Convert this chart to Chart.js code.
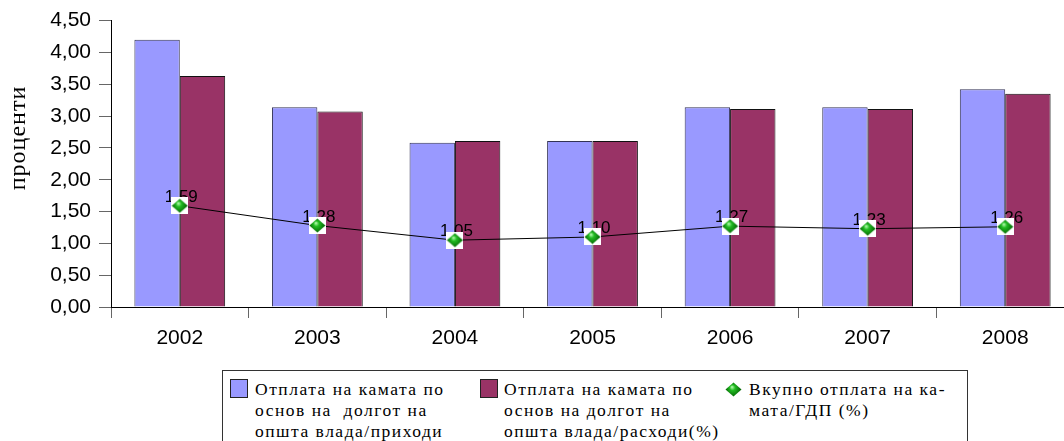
<!DOCTYPE html>
<html>
<head>
<meta charset="utf-8">
<script src="https://cdn.jsdelivr.net/npm/chart.js@4/dist/chart.umd.min.js"></script>
<style>
  html, body { margin: 0; padding: 0; background: #fff; overflow: hidden; }
  #wrap { position: relative; width: 1064px; height: 441px; overflow: hidden; }
  #holder { position: absolute; left: 0; top: 0; width: 1083px; height: 441px; }
  #legend {
    position: absolute; left: 222px; top: 370px; width: 746px; height: 90px;
    border: 1px solid #333; background: #fff; box-sizing: border-box;
    font-family: "Liberation Serif", "Times New Roman", serif; font-size: 17.5px;
    line-height: 21px; color: #000; letter-spacing: 1.5px;
  }
  .item { position: absolute; top: 0; }
  .sw { position: absolute; width: 16px; height: 17px; border: 1px solid #222; }
  .txt { position: absolute; top: 8px; white-space: pre; }
</style>
</head>
<body>
<div id="wrap">
  <div id="holder"><canvas id="c" width="1083" height="441"></canvas></div>
  <div id="legend"></div>
</div>
<script>
// Years on the category axis
const years = ['2002', '2003', '2004', '2005', '2006', '2007', '2008'];
// Interest payments on general government debt, share of revenue (%)
const revenueShare = [4.20, 3.14, 2.58, 2.61, 3.14, 3.14, 3.42];
// Interest payments on general government debt, share of expenditure (%)
const expenditureShare = [3.63, 3.07, 2.61, 2.61, 3.11, 3.11, 3.35];
// Total interest payments as share of GDP (%)
const gdpShare = [1.59, 1.28, 1.05, 1.10, 1.27, 1.23, 1.26];

const revenueLabel = ['Отплата на камата по', 'основ на  долгот на', 'општа влада/приходи'];
const expenditureLabel = ['Отплата на камата по', 'основ на долгот на', 'општа влада/расходи(%)'];
const gdpLabel = ['Вкупно отплата на ка-', 'мата/ГДП (%)'];
const axisTitle = 'проценти';

const fmt = v => v.toFixed(2).replace('.', ',');

// Green diamond marker, optionally on a white square
function diamond(size, withBack) {
  const cv = document.createElement('canvas');
  cv.width = size; cv.height = size;
  const g = cv.getContext('2d');
  if (withBack) { g.fillStyle = '#fff'; g.fillRect(0, 0, size, size); }
  const c = size / 2, r = size / 2 - 0.5;
  const grad = g.createRadialGradient(c - 1.5, c - 2.5, 0.5, c, c, r);
  grad.addColorStop(0, '#a6f5a0');
  grad.addColorStop(0.3, '#22bb22');
  grad.addColorStop(1, '#005c00');
  g.fillStyle = grad;
  g.beginPath();
  g.moveTo(c, c - r + 1); g.lineTo(c + r, c); g.lineTo(c, c + r - 1); g.lineTo(c - r, c);
  g.closePath(); g.fill();
  return cv;
}
const marker = diamond(17, true);

// Value labels above the line markers, drawn just before the line so markers sit on top
const valueLabels = {
  id: 'valueLabels',
  beforeDatasetDraw(chart, args) {
    if (args.index !== 0) return;
    const ctx = chart.ctx;
    ctx.save();
    ctx.font = '17px "Liberation Sans", Arial, sans-serif';
    ctx.fillStyle = '#000';
    ctx.textAlign = 'center';
    ctx.textBaseline = 'alphabetic';
    args.meta.data.forEach((pt, i) => {
      ctx.fillText(fmt(gdpShare[i]), pt.x + 1.5, pt.y - 4);
    });
    ctx.restore();
  }
};

// Rotated y axis caption
const yCaption = {
  id: 'yCaption',
  afterDraw(chart) {
    const ctx = chart.ctx;
    ctx.save();
    ctx.translate(25, 138);
    ctx.rotate(-Math.PI / 2);
    ctx.font = '24px "Liberation Serif", "Times New Roman", serif';
    ctx.letterSpacing = '1px';
    ctx.fillStyle = '#000';
    ctx.textAlign = 'center';
    ctx.textBaseline = 'alphabetic';
    ctx.fillText(axisTitle, 0, 0);
    ctx.restore();
  }
};

new Chart(document.getElementById('c'), {
  data: {
    labels: years,
    datasets: [
      {
        type: 'line', label: gdpLabel.join(' '), data: gdpShare, order: 0,
        borderColor: '#000', borderWidth: 1, tension: 0,
        pointStyle: marker, pointRadius: 8, pointHoverRadius: 8
      },
      {
        type: 'bar', label: revenueLabel.join(' '), data: revenueShare, order: 1,
        backgroundColor: '#9999ff', borderColor: '#333355', borderWidth: 1
      },
      {
        type: 'bar', label: expenditureLabel.join(' '), data: expenditureShare, order: 2,
        backgroundColor: '#993366', borderColor: '#111', borderWidth: 1
      }
    ]
  },
  options: {
    responsive: false,
    animation: false,
    events: [],
    datasets: { bar: { categoryPercentage: 0.66, barPercentage: 1.0 } },
    layout: { padding: { left: 0, right: 6, top: 20, bottom: 0 } },
    plugins: { legend: { display: false }, tooltip: { enabled: false } },
    scales: {
      x: {
        offset: true,
        grid: { offset: true, drawOnChartArea: false, drawTicks: true, tickLength: 11, tickColor: '#666' },
        border: { color: '#000', width: 1 },
        ticks: { color: '#000', font: { family: '"Liberation Sans", Arial, sans-serif', size: 21 }, padding: 8 },
        afterFit: s => { s.height = 134; }
      },
      y: {
        min: 0, max: 4.5,
        grid: { drawOnChartArea: false, drawTicks: true, tickLength: 12, tickColor: '#666' },
        border: { color: '#000', width: 1 },
        ticks: {
          stepSize: 0.5, color: '#000', padding: 8,
          font: { family: '"Liberation Sans", Arial, sans-serif', size: 21 },
          callback: v => fmt(v)
        },
        afterFit: s => { s.width = 111; }
      }
    }
  },
  plugins: [valueLabels, yCaption]
});

// Legend below the chart
const legend = document.getElementById('legend');
function addItem(left, swatch, lines, textLeft) {
  const it = document.createElement('div');
  it.className = 'item';
  it.style.left = left + 'px';
  legend.appendChild(it);
  if (swatch instanceof HTMLCanvasElement) {
    swatch.style.position = 'absolute';
    swatch.style.left = '0px'; swatch.style.top = '10px';
    it.appendChild(swatch);
  } else {
    const s = document.createElement('div');
    s.className = 'sw';
    s.style.left = '0px'; s.style.top = '8px';
    s.style.background = swatch;
    it.appendChild(s);
  }
  const t = document.createElement('div');
  t.className = 'txt';
  t.style.left = textLeft + 'px';
  t.textContent = lines.join('\n');
  it.appendChild(t);
}
addItem(7, '#9999ff', revenueLabel, 25);
addItem(257, '#993366', expenditureLabel, 24);
addItem(502, diamond(17, false), gdpLabel, 24);
</script>
</body>
</html>
